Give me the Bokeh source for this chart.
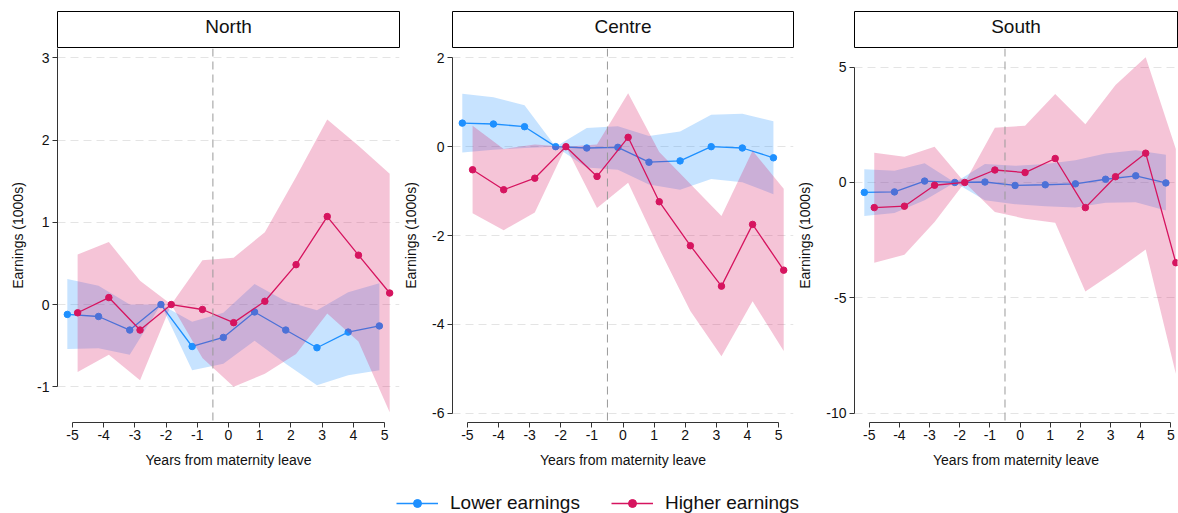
from bokeh.plotting import figure
from bokeh.models import Range1d, FixedTicker, Span, Label, Legend, LegendItem
from bokeh.layouts import row, column
from bokeh.embed import file_html
from bokeh.resources import INLINE

# ---------------- data ----------------
years = [-5, -4, -3, -2, -1, 0, 1, 2, 3, 4, 5]
x_tick_labels = ["-5", "-4", "-3", "-2", "-1", "0", "1", "2", "3", "4", "5"]
panels = ["North", "Centre", "South"]
series_names = ["Lower earnings", "Higher earnings"]

north_yticks = [-1, 0, 1, 2, 3]
north_ylabels = ["-1", "0", "1", "2", "3"]
centre_yticks = [-6, -4, -2, 0, 2]
centre_ylabels = ["-6", "-4", "-2", "0", "2"]
south_yticks = [-10, -5, 0, 5]
south_ylabels = ["-10", "-5", "0", "5"]

north_low = [-0.12, -0.145, -0.31, 0.0, -0.51, -0.40, -0.09, -0.31, -0.525, -0.335, -0.26]
north_low_hi = [0.31, 0.23, 0.0, 0.0, -0.21, -0.10, 0.25, 0.04, -0.07, 0.15, 0.26]
north_low_lo = [-0.54, -0.53, -0.61, 0.0, -0.80, -0.72, -0.44, -0.72, -0.98, -0.86, -0.80]
north_high = [-0.10, 0.085, -0.31, 0.0, -0.06, -0.22, 0.04, 0.485, 1.07, 0.60, 0.14]
north_high_hi = [0.61, 0.76, 0.29, 0.0, 0.54, 0.57, 0.88, 1.55, 2.25, 1.93, 1.59]
north_high_lo = [-0.82, -0.61, -0.92, 0.0, -0.65, -1.00, -0.84, -0.60, -0.11, -0.45, -1.31]

centre_low = [0.53, 0.51, 0.45, 0.0, -0.03, -0.015, -0.35, -0.32, 0.0, -0.03, -0.25]
centre_low_hi = [1.19, 1.11, 0.93, 0.0, 0.42, 0.46, 0.24, 0.34, 0.72, 0.74, 0.57]
centre_low_lo = [-0.13, -0.07, -0.03, 0.0, -0.47, -0.52, -0.85, -0.97, -0.73, -0.80, -1.07]
centre_high = [-0.52, -0.97, -0.71, 0.0, -0.67, 0.21, -1.24, -2.23, -3.14, -1.75, -2.78]
centre_high_hi = [0.47, -0.05, 0.05, 0.0, 0.05, 1.20, -0.12, -0.84, -1.56, -0.09, -0.95]
centre_high_lo = [-1.50, -1.88, -1.48, 0.0, -1.38, -0.81, -2.30, -3.70, -4.72, -3.48, -4.60]

south_low = [-0.43, -0.41, 0.06, 0.0, 0.02, -0.13, -0.10, -0.06, 0.14, 0.29, -0.02]
south_low_hi = [0.57, 0.51, 0.83, 0.0, 0.80, 0.72, 0.80, 0.96, 1.26, 1.40, 1.20]
south_low_lo = [-1.45, -1.32, -0.77, 0.0, -0.77, -0.94, -1.03, -1.09, -0.88, -0.86, -1.22]
south_high = [-1.09, -1.03, -0.12, 0.0, 0.54, 0.43, 1.04, -1.09, 0.25, 1.27, -3.48]
south_high_hi = [1.29, 1.11, 1.55, 0.0, 2.37, 2.46, 3.84, 2.53, 4.23, 5.43, 1.45]
south_high_lo = [-3.48, -3.13, -1.71, 0.0, -1.28, -1.57, -1.75, -4.73, -3.85, -2.91, -8.30]

# ---------------- style ----------------
FONT = "Liberation Sans"
BLUE = "#1E90FF"
PINK = "#D6145F"
BAND_ALPHA = 0.25
DODGE = 0.165
EVENT = -0.5
TXT = "#111111"
AXIS = "#333333"

HEADER_H = 48
PANEL_H = 424
LEGEND_H = 41


def make_panel(name, width, border_left, xr, yr, yticks, ylabels, ybounds, ystandoff,
               low, low_hi, low_lo, high, high_hi, high_lo):
    xl = [v - DODGE for v in years]
    xh = [v + DODGE for v in years]

    # header box
    h = figure(width=width, height=HEADER_H, x_range=Range1d(0, 1), y_range=Range1d(0, 1),
               output_backend="svg", toolbar_location=None,
               min_border_left=border_left, min_border_right=1, min_border_top=11, min_border_bottom=0)
    h.axis.visible = False
    h.grid.visible = False
    h.outline_line_color = "black"
    h.outline_line_width = 1
    h.background_fill_color = "white"
    h.border_fill_color = "white"
    h.add_layout(Label(x=0.5, y=0.6, text=name, text_align="center", text_baseline="middle",
                       text_font_size="19px", text_font=FONT, text_color=TXT))

    p = figure(width=width, height=PANEL_H, x_range=Range1d(*xr), y_range=Range1d(*yr),
               output_backend="svg", toolbar_location=None,
               min_border_left=border_left, min_border_right=1, min_border_top=0, min_border_bottom=50)
    p.outline_line_color = None
    p.background_fill_color = "white"
    p.border_fill_color = "white"

    p.xgrid.visible = False
    p.ygrid.ticker = FixedTicker(ticks=yticks)
    p.ygrid.grid_line_color = "#e4e4e4"
    p.ygrid.grid_line_dash = "8 5"
    p.ygrid.grid_line_width = 1

    # bands and lines
    p.varea(x=xl, y1=low_lo, y2=low_hi, fill_color=BLUE, fill_alpha=BAND_ALPHA)
    p.line(xl, low, line_color=BLUE, line_width=1.3)
    p.scatter(xl, low, size=6.5, fill_color=BLUE, line_color=BLUE)
    p.varea(x=xh, y1=high_lo, y2=high_hi, fill_color=PINK, fill_alpha=BAND_ALPHA)
    p.line(xh, high, line_color=PINK, line_width=1.3)
    p.scatter(xh, high, size=6.5, fill_color=PINK, line_color=PINK)

    p.add_layout(Span(location=EVENT, dimension="height", line_color="#9a9a9a",
                      line_dash="8 5", line_width=1))

    # x axis
    xa = p.xaxis[0]
    xa.ticker = FixedTicker(ticks=years)
    xa.major_label_overrides = dict(zip(years, x_tick_labels))
    xa.bounds = (years[0], years[-1])
    xa.axis_label = "Years from maternity leave"
    xa.axis_label_text_font = FONT
    xa.axis_label_text_font_size = "14px"
    xa.axis_label_text_font_style = "normal"
    xa.axis_label_text_color = TXT
    xa.axis_label_standoff = 9
    xa.major_label_text_font = FONT
    xa.major_label_text_font_size = "14px"
    xa.major_label_text_color = TXT
    xa.major_label_standoff = 2
    xa.major_tick_in = 0
    xa.major_tick_out = 5
    xa.minor_tick_in = 0
    xa.minor_tick_out = 0
    xa.axis_line_color = AXIS
    xa.major_tick_line_color = AXIS

    ya = p.yaxis[0]
    ya.ticker = FixedTicker(ticks=yticks)
    ya.major_label_overrides = dict(zip(yticks, ylabels))
    ya.bounds = ybounds
    ya.axis_label = "Earnings (1000s)"
    ya.axis_label_text_font = FONT
    ya.axis_label_text_font_size = "14px"
    ya.axis_label_text_font_style = "normal"
    ya.axis_label_text_color = TXT
    ya.axis_label_standoff = ystandoff
    ya.major_label_text_font = FONT
    ya.major_label_text_font_size = "14px"
    ya.major_label_text_color = TXT
    ya.major_label_standoff = 3
    ya.major_tick_in = 0
    ya.major_tick_out = 5
    ya.minor_tick_in = 0
    ya.minor_tick_out = 0
    ya.axis_line_color = AXIS
    ya.major_tick_line_color = AXIS

    return column(h, p, spacing=0)


north = make_panel(panels[0], 400, 57, (-5.48, 5.48), (-1.434, 3.113),
                   north_yticks, north_ylabels, (-1, 3.113), 8,
                   north_low, north_low_hi, north_low_lo, north_high, north_high_hi, north_high_lo)
centre = make_panel(panels[1], 394, 49, (-5.48, 5.48), (-6.21, 2.21),
                    centre_yticks, centre_ylabels, (-6, 2), 10,
                    centre_low, centre_low_hi, centre_low_lo, centre_high, centre_high_hi, centre_high_lo)
south = make_panel(panels[2], 384, 57, (-5.49, 5.22), (-10.41, 5.81),
                   south_yticks, south_ylabels, (-10, 5), 10,
                   south_low, south_low_hi, south_low_lo, south_high, south_high_hi, south_high_lo)

# legend strip: the series are drawn outside the visible range, only their legend glyphs show
lf = figure(width=1178, height=LEGEND_H, x_range=Range1d(100, 101), y_range=Range1d(100, 101),
            output_backend="svg", toolbar_location=None,
            min_border_left=0, min_border_right=0, min_border_top=0, min_border_bottom=0)
lf.axis.visible = False
lf.grid.visible = False
lf.outline_line_color = None
lf.background_fill_color = "white"
lf.border_fill_color = "white"
rb1 = lf.line(years, north_low, line_color=BLUE, line_width=1.3)
rb2 = lf.scatter(years, north_low, size=6.5, fill_color=BLUE, line_color=BLUE)
rp1 = lf.line(years, north_high, line_color=PINK, line_width=1.3)
rp2 = lf.scatter(years, north_high, size=6.5, fill_color=PINK, line_color=PINK)
legend = Legend(items=[LegendItem(label=series_names[0], renderers=[rb1, rb2]),
                       LegendItem(label=series_names[1], renderers=[rp1, rp2])],
                orientation="horizontal", location=(396, -1),
                glyph_width=42, glyph_height=20, label_standoff=12, spacing=31,
                padding=0, margin=0, border_line_color=None, background_fill_alpha=0,
                label_text_font=FONT, label_text_font_size="19px", label_text_color=TXT)
lf.add_layout(legend, "center")

layout = column(row(north, centre, south, spacing=0), lf, spacing=0)

with open("out.html", "w") as f:
    f.write(file_html(layout, INLINE))
